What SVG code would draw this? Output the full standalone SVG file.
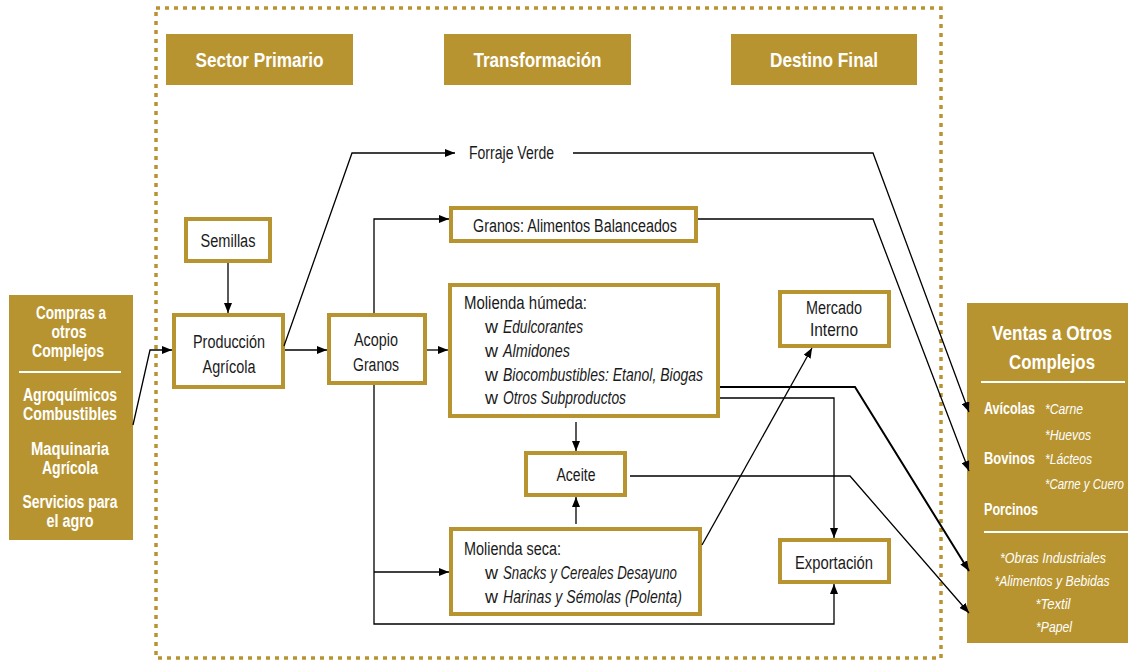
<svg xmlns="http://www.w3.org/2000/svg" width="1130" height="664" viewBox="0 0 1130 664">
<defs>
<style>
.box{fill:#fff;stroke:#B89430;stroke-width:4}
.hdr{fill:#B89430}
text{font-family:"Liberation Sans",Arial,sans-serif}
.ht{fill:#fff;font-weight:bold;font-size:21px;text-anchor:middle}
.t{fill:#1a1a1a;font-size:18px}
.c{text-anchor:middle}
.i{font-style:italic}
.pt{fill:#fff;font-weight:bold;font-size:17.5px;text-anchor:middle}
.rb{fill:#fff;font-weight:bold;font-size:16.5px}
.rt{fill:#fff;font-size:15.5px}
.ln{fill:none;stroke:#000;stroke-width:1.3}
.sep{stroke:#fff;stroke-width:2}
</style>
<marker id="ah" viewBox="0 0 10 8" refX="10" refY="4" markerWidth="10" markerHeight="8" markerUnits="userSpaceOnUse" orient="auto">
<path d="M0,0 L10,4 L0,8 z" fill="#000"/>
</marker>
</defs>
<rect width="1130" height="664" fill="#fff"/>
<rect x="156" y="8" width="785" height="650" fill="none" stroke="#B89430" stroke-width="3.5" stroke-dasharray="4 5"/>

<g id="hdr-primario"><rect class="hdr" x="166" y="34" width="187" height="51"/><text class="ht" x="259.5" y="67" textLength="128" lengthAdjust="spacingAndGlyphs">Sector Primario</text></g>
<g id="hdr-transformacion"><rect class="hdr" x="444" y="34" width="187" height="51"/><text class="ht" x="537.5" y="67" textLength="128" lengthAdjust="spacingAndGlyphs">Transformación</text></g>
<g id="hdr-destino"><rect class="hdr" x="731" y="34" width="186" height="51"/><text class="ht" x="824" y="67" textLength="108" lengthAdjust="spacingAndGlyphs">Destino Final</text></g>

<g id="compras">
<rect class="hdr" x="9" y="295" width="124" height="245"/>
<text class="pt" x="71" y="319" textLength="70" lengthAdjust="spacingAndGlyphs">Compras a</text>
<text class="pt" x="69" y="338" textLength="35" lengthAdjust="spacingAndGlyphs">otros</text>
<text class="pt" x="68" y="357" textLength="72" lengthAdjust="spacingAndGlyphs">Complejos</text>
<line class="sep" x1="19" y1="372" x2="121" y2="372"/>
<text class="pt" x="70" y="401" textLength="94" lengthAdjust="spacingAndGlyphs">Agroquímicos</text>
<text class="pt" x="70" y="420" textLength="94" lengthAdjust="spacingAndGlyphs">Combustibles</text>
<text class="pt" x="70" y="455" textLength="78" lengthAdjust="spacingAndGlyphs">Maquinaria</text>
<text class="pt" x="70" y="474" textLength="56" lengthAdjust="spacingAndGlyphs">Agrícola</text>
<text class="pt" x="70" y="508" textLength="95" lengthAdjust="spacingAndGlyphs">Servicios para</text>
<text class="pt" x="70" y="527" textLength="47" lengthAdjust="spacingAndGlyphs">el agro</text>
</g>

<g id="ventas">
<rect class="hdr" x="967" y="303" width="161" height="340"/>
<text class="ht" x="1052" y="340" style="font-size:21px" textLength="120" lengthAdjust="spacingAndGlyphs">Ventas a Otros</text>
<text class="ht" x="1052" y="369" style="font-size:21px" textLength="86" lengthAdjust="spacingAndGlyphs">Complejos</text>
<line class="sep" x1="981" y1="382" x2="1125" y2="382"/>
<text class="rb" x="984" y="414" textLength="51" lengthAdjust="spacingAndGlyphs">Avícolas</text>
<text class="rt i" x="1045" y="414" textLength="38" lengthAdjust="spacingAndGlyphs">*Carne</text>
<text class="rt i" x="1045" y="440" textLength="46" lengthAdjust="spacingAndGlyphs">*Huevos</text>
<text class="rb" x="984" y="464" textLength="51" lengthAdjust="spacingAndGlyphs">Bovinos</text>
<text class="rt i" x="1045" y="464" textLength="47" lengthAdjust="spacingAndGlyphs">*Lácteos</text>
<text class="rt i" x="1045" y="489" style="font-size:14.5px" textLength="79" lengthAdjust="spacingAndGlyphs">*Carne y Cuero</text>
<text class="rb" x="984" y="515" textLength="54" lengthAdjust="spacingAndGlyphs">Porcinos</text>
<line class="sep" x1="984" y1="532" x2="1128" y2="532"/>
<text class="rt i c" x="1053" y="563" textLength="106" lengthAdjust="spacingAndGlyphs">*Obras Industriales</text>
<text class="rt i c" x="1052" y="586" style="font-size:14.5px" textLength="115" lengthAdjust="spacingAndGlyphs">*Alimentos y Bebidas</text>
<text class="rt i c" x="1053" y="609" textLength="35" lengthAdjust="spacingAndGlyphs">*Textil</text>
<text class="rt i c" x="1054" y="632" textLength="36" lengthAdjust="spacingAndGlyphs">*Papel</text>
</g>

<g id="semillas"><rect class="box" x="186" y="219" width="84" height="42"/><text class="t c" x="228" y="247" textLength="55" lengthAdjust="spacingAndGlyphs">Semillas</text></g>
<g id="produccion"><rect class="box" x="174" y="315" width="109" height="72"/><text class="t c" x="229" y="348" textLength="72" lengthAdjust="spacingAndGlyphs">Producción</text><text class="t c" x="229" y="373" textLength="53" lengthAdjust="spacingAndGlyphs">Agrícola</text></g>
<g id="acopio"><rect class="box" x="329" y="315" width="96" height="68"/><text class="t c" x="376" y="346" textLength="44" lengthAdjust="spacingAndGlyphs">Acopio</text><text class="t c" x="376" y="371" textLength="46" lengthAdjust="spacingAndGlyphs">Granos</text></g>
<g id="forraje"><text class="t" x="469" y="159" textLength="85" lengthAdjust="spacingAndGlyphs">Forraje Verde</text></g>
<g id="granos"><rect class="box" x="451" y="208" width="245" height="33"/><text class="t c" x="575" y="232" textLength="204" lengthAdjust="spacingAndGlyphs">Granos: Alimentos Balanceados</text></g>
<g id="molienda-humeda"><rect class="box" x="450" y="285" width="268" height="131"/>
<text class="t" x="464" y="309" textLength="123" lengthAdjust="spacingAndGlyphs">Molienda húmeda:</text>
<text class="t" x="485" y="333">w</text><text class="t i" x="503" y="333" textLength="80" lengthAdjust="spacingAndGlyphs">Edulcorantes</text>
<text class="t" x="485" y="357">w</text><text class="t i" x="503" y="357" textLength="67" lengthAdjust="spacingAndGlyphs">Almidones</text>
<text class="t" x="485" y="381">w</text><text class="t i" x="503" y="381" textLength="200" lengthAdjust="spacingAndGlyphs">Biocombustibles: Etanol, Biogas</text>
<text class="t" x="485" y="404">w</text><text class="t i" x="503" y="404" textLength="123" lengthAdjust="spacingAndGlyphs">Otros Subproductos</text>
</g>
<g id="aceite"><rect class="box" x="526" y="453" width="99" height="42"/><text class="t c" x="576" y="481" textLength="39" lengthAdjust="spacingAndGlyphs">Aceite</text></g>
<g id="molienda-seca"><rect class="box" x="451" y="529" width="249" height="85"/>
<text class="t" x="464" y="555" textLength="97" lengthAdjust="spacingAndGlyphs">Molienda seca:</text>
<text class="t" x="485" y="579">w</text><text class="t i" x="503" y="579" textLength="174" lengthAdjust="spacingAndGlyphs">Snacks y Cereales Desayuno</text>
<text class="t" x="485" y="603">w</text><text class="t i" x="503" y="603" textLength="179" lengthAdjust="spacingAndGlyphs">Harinas y Sémolas (Polenta)</text>
</g>
<g id="mercado"><rect class="box" x="780" y="292" width="109" height="54"/><text class="t c" x="834" y="314" textLength="56" lengthAdjust="spacingAndGlyphs">Mercado</text><text class="t c" x="834" y="336" textLength="48" lengthAdjust="spacingAndGlyphs">Interno</text></g>
<g id="exportacion"><rect class="box" x="780" y="540" width="109" height="42"/><text class="t c" x="834" y="569" textLength="78" lengthAdjust="spacingAndGlyphs">Exportación</text></g>

<g id="connectors">
<path class="ln" d="M133,425 L150,350 L172,350" marker-end="url(#ah)"/>
<path class="ln" d="M228,263 L228,313" marker-end="url(#ah)"/>
<path class="ln" d="M285,350 L327,350" marker-end="url(#ah)"/>
<path class="ln" d="M284,346 L352,153 L455,153" marker-end="url(#ah)"/>
<path class="ln" d="M374,313 L374,219 L449,219" marker-end="url(#ah)"/>
<path class="ln" d="M427,350 L448,350" marker-end="url(#ah)"/>
<path class="ln" d="M374,385 L374,624 L834,624 L834,584" marker-end="url(#ah)"/>
<path class="ln" d="M374,572 L449,572" marker-end="url(#ah)"/>
<path class="ln" d="M573,153 L873,153 L969,412" marker-end="url(#ah)"/>
<path class="ln" d="M698,219 L873,219 L969,471" marker-end="url(#ah)"/>
<path class="ln" d="M720,387 L855,387 L969,571" marker-end="url(#ah)" style="stroke-width:2"/>
<path class="ln" d="M720,398 L834,398 L834,538" marker-end="url(#ah)"/>
<path class="ln" d="M576,422 L576,451" marker-end="url(#ah)"/>
<path class="ln" d="M576,524 L576,497" marker-end="url(#ah)"/>
<path class="ln" d="M630,476 L850,476 L969,613" marker-end="url(#ah)"/>
<path class="ln" d="M702,545 L812,348" marker-end="url(#ah)"/>
</g>
</svg>
